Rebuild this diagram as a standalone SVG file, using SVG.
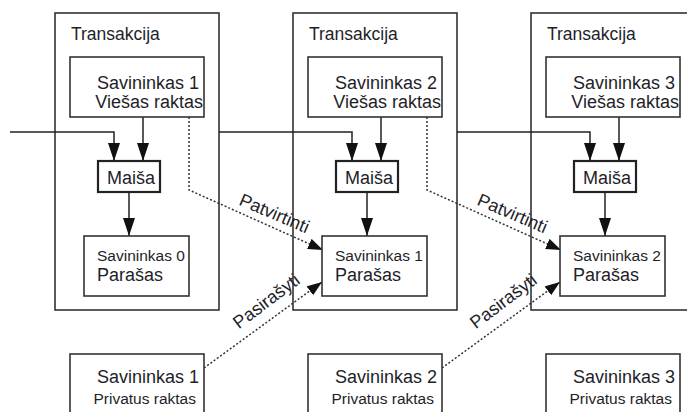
<svg xmlns="http://www.w3.org/2000/svg" width="687" height="412" viewBox="0 0 687 412">
<defs>
<marker id="ah" markerUnits="userSpaceOnUse" markerWidth="19" markerHeight="13" refX="18" refY="6" orient="auto">
<path d="M0,0 L18,6 L0,12 z" fill="#111"/>
</marker>
<marker id="dh" markerUnits="userSpaceOnUse" markerWidth="16" markerHeight="12" refX="15" refY="5.5" orient="auto">
<path d="M0,0 L15,5.5 L0,11 z" fill="#111"/>
</marker>
<style>
.tx{fill:none;stroke:#333;stroke-width:1.6}
.bx{fill:#fff;stroke:#333;stroke-width:1.6}
.mb{fill:#fff;stroke:#222;stroke-width:2.2}
.ln{fill:none;stroke:#222;stroke-width:1.4}
.ar{fill:none;stroke:#222;stroke-width:1.5;marker-end:url(#ah)}
.dt{fill:none;stroke:#333;stroke-width:1.5;stroke-dasharray:2 2;marker-end:url(#dh)}
text{font-family:"Liberation Sans",Arial,sans-serif;fill:#1e1e28}
.t18{font-size:18px}
.t17{font-size:17.5px}
.t15{font-size:15.5px}
.e{text-anchor:end}
</style>
</defs>

<g id="tx1"><rect class="tx" x="55" y="13" width="164" height="297"/><text class="t17" x="71" y="40">Transakcija</text></g>
<g id="tx2"><rect class="tx" x="293" y="13" width="164" height="297"/><text class="t17" x="309" y="40">Transakcija</text></g>
<g id="tx3"><rect class="tx" x="531" y="13" width="164" height="297"/><text class="t17" x="547" y="40">Transakcija</text></g>

<g id="connectors">
<path class="ar" d="M10,132 H114 V161"/>
<path class="ar" d="M143,117 V161"/>
<path class="ar" d="M129,192 V236"/>
<path class="ar" d="M219,132 H352 V161"/>
<path class="ar" d="M381,117 V161"/>
<path class="ar" d="M367,192 V236"/>
<path class="ar" d="M457,132 H590 V161"/>
<path class="ar" d="M619,117 V161"/>
<path class="ar" d="M605,192 V236"/>
<path class="dt" d="M189,117 V190 L323,250"/>
<path class="dt" d="M427,117 V190 L561,250"/>
<path class="dt" d="M204,368 L322,282"/>
<path class="dt" d="M442,368 L560,282"/>
<text class="t18" text-anchor="middle" transform="translate(272,219) rotate(23)">Patvirtinti</text>
<text class="t18" text-anchor="middle" transform="translate(510,219) rotate(23)">Patvirtinti</text>
<text class="t18" text-anchor="middle" transform="translate(270,306) rotate(-37)">Pasirašyti</text>
<text class="t18" text-anchor="middle" transform="translate(507,306) rotate(-37)">Pasirašyti</text>
</g>

<g id="pub1"><rect class="bx" x="70" y="57" width="134" height="60"/><text class="t18 e" x="199" y="89">Savininkas 1</text><text class="t18 e" x="203" y="108">Viešas raktas</text></g>
<g id="pub2"><rect class="bx" x="308" y="57" width="134" height="60"/><text class="t18 e" x="437" y="89">Savininkas 2</text><text class="t18 e" x="441" y="108">Viešas raktas</text></g>
<g id="pub3"><rect class="bx" x="546" y="57" width="134" height="60"/><text class="t18 e" x="675" y="89">Savininkas 3</text><text class="t18 e" x="679" y="108">Viešas raktas</text></g>

<g id="hash1"><rect class="mb" x="98" y="161" width="62" height="31"/><text class="t18" x="107" y="184">Maiša</text></g>
<g id="hash2"><rect class="mb" x="336" y="161" width="62" height="31"/><text class="t18" x="345" y="184">Maiša</text></g>
<g id="hash3"><rect class="mb" x="574" y="161" width="62" height="31"/><text class="t18" x="583" y="184">Maiša</text></g>

<g id="sig0"><rect class="bx" x="84" y="236" width="105" height="60"/><text class="t15" x="97" y="261">Savininkas 0</text><text class="t18" x="97" y="281">Parašas</text></g>
<g id="sig1"><rect class="bx" x="322" y="236" width="105" height="60"/><text class="t15" x="335" y="261">Savininkas 1</text><text class="t18" x="335" y="281">Parašas</text></g>
<g id="sig2"><rect class="bx" x="560" y="236" width="105" height="60"/><text class="t15" x="573" y="261">Savininkas 2</text><text class="t18" x="573" y="281">Parašas</text></g>

<g id="priv1"><rect class="bx" x="70" y="354" width="134" height="70"/><text class="t18 e" x="199" y="383">Savininkas 1</text><text class="t15 e" x="196" y="404">Privatus raktas</text></g>
<g id="priv2"><rect class="bx" x="308" y="354" width="134" height="70"/><text class="t18 e" x="437" y="383">Savininkas 2</text><text class="t15 e" x="434" y="404">Privatus raktas</text></g>
<g id="priv3"><rect class="bx" x="546" y="354" width="134" height="70"/><text class="t18 e" x="675" y="383">Savininkas 3</text><text class="t15 e" x="672" y="404">Privatus raktas</text></g>
</svg>
